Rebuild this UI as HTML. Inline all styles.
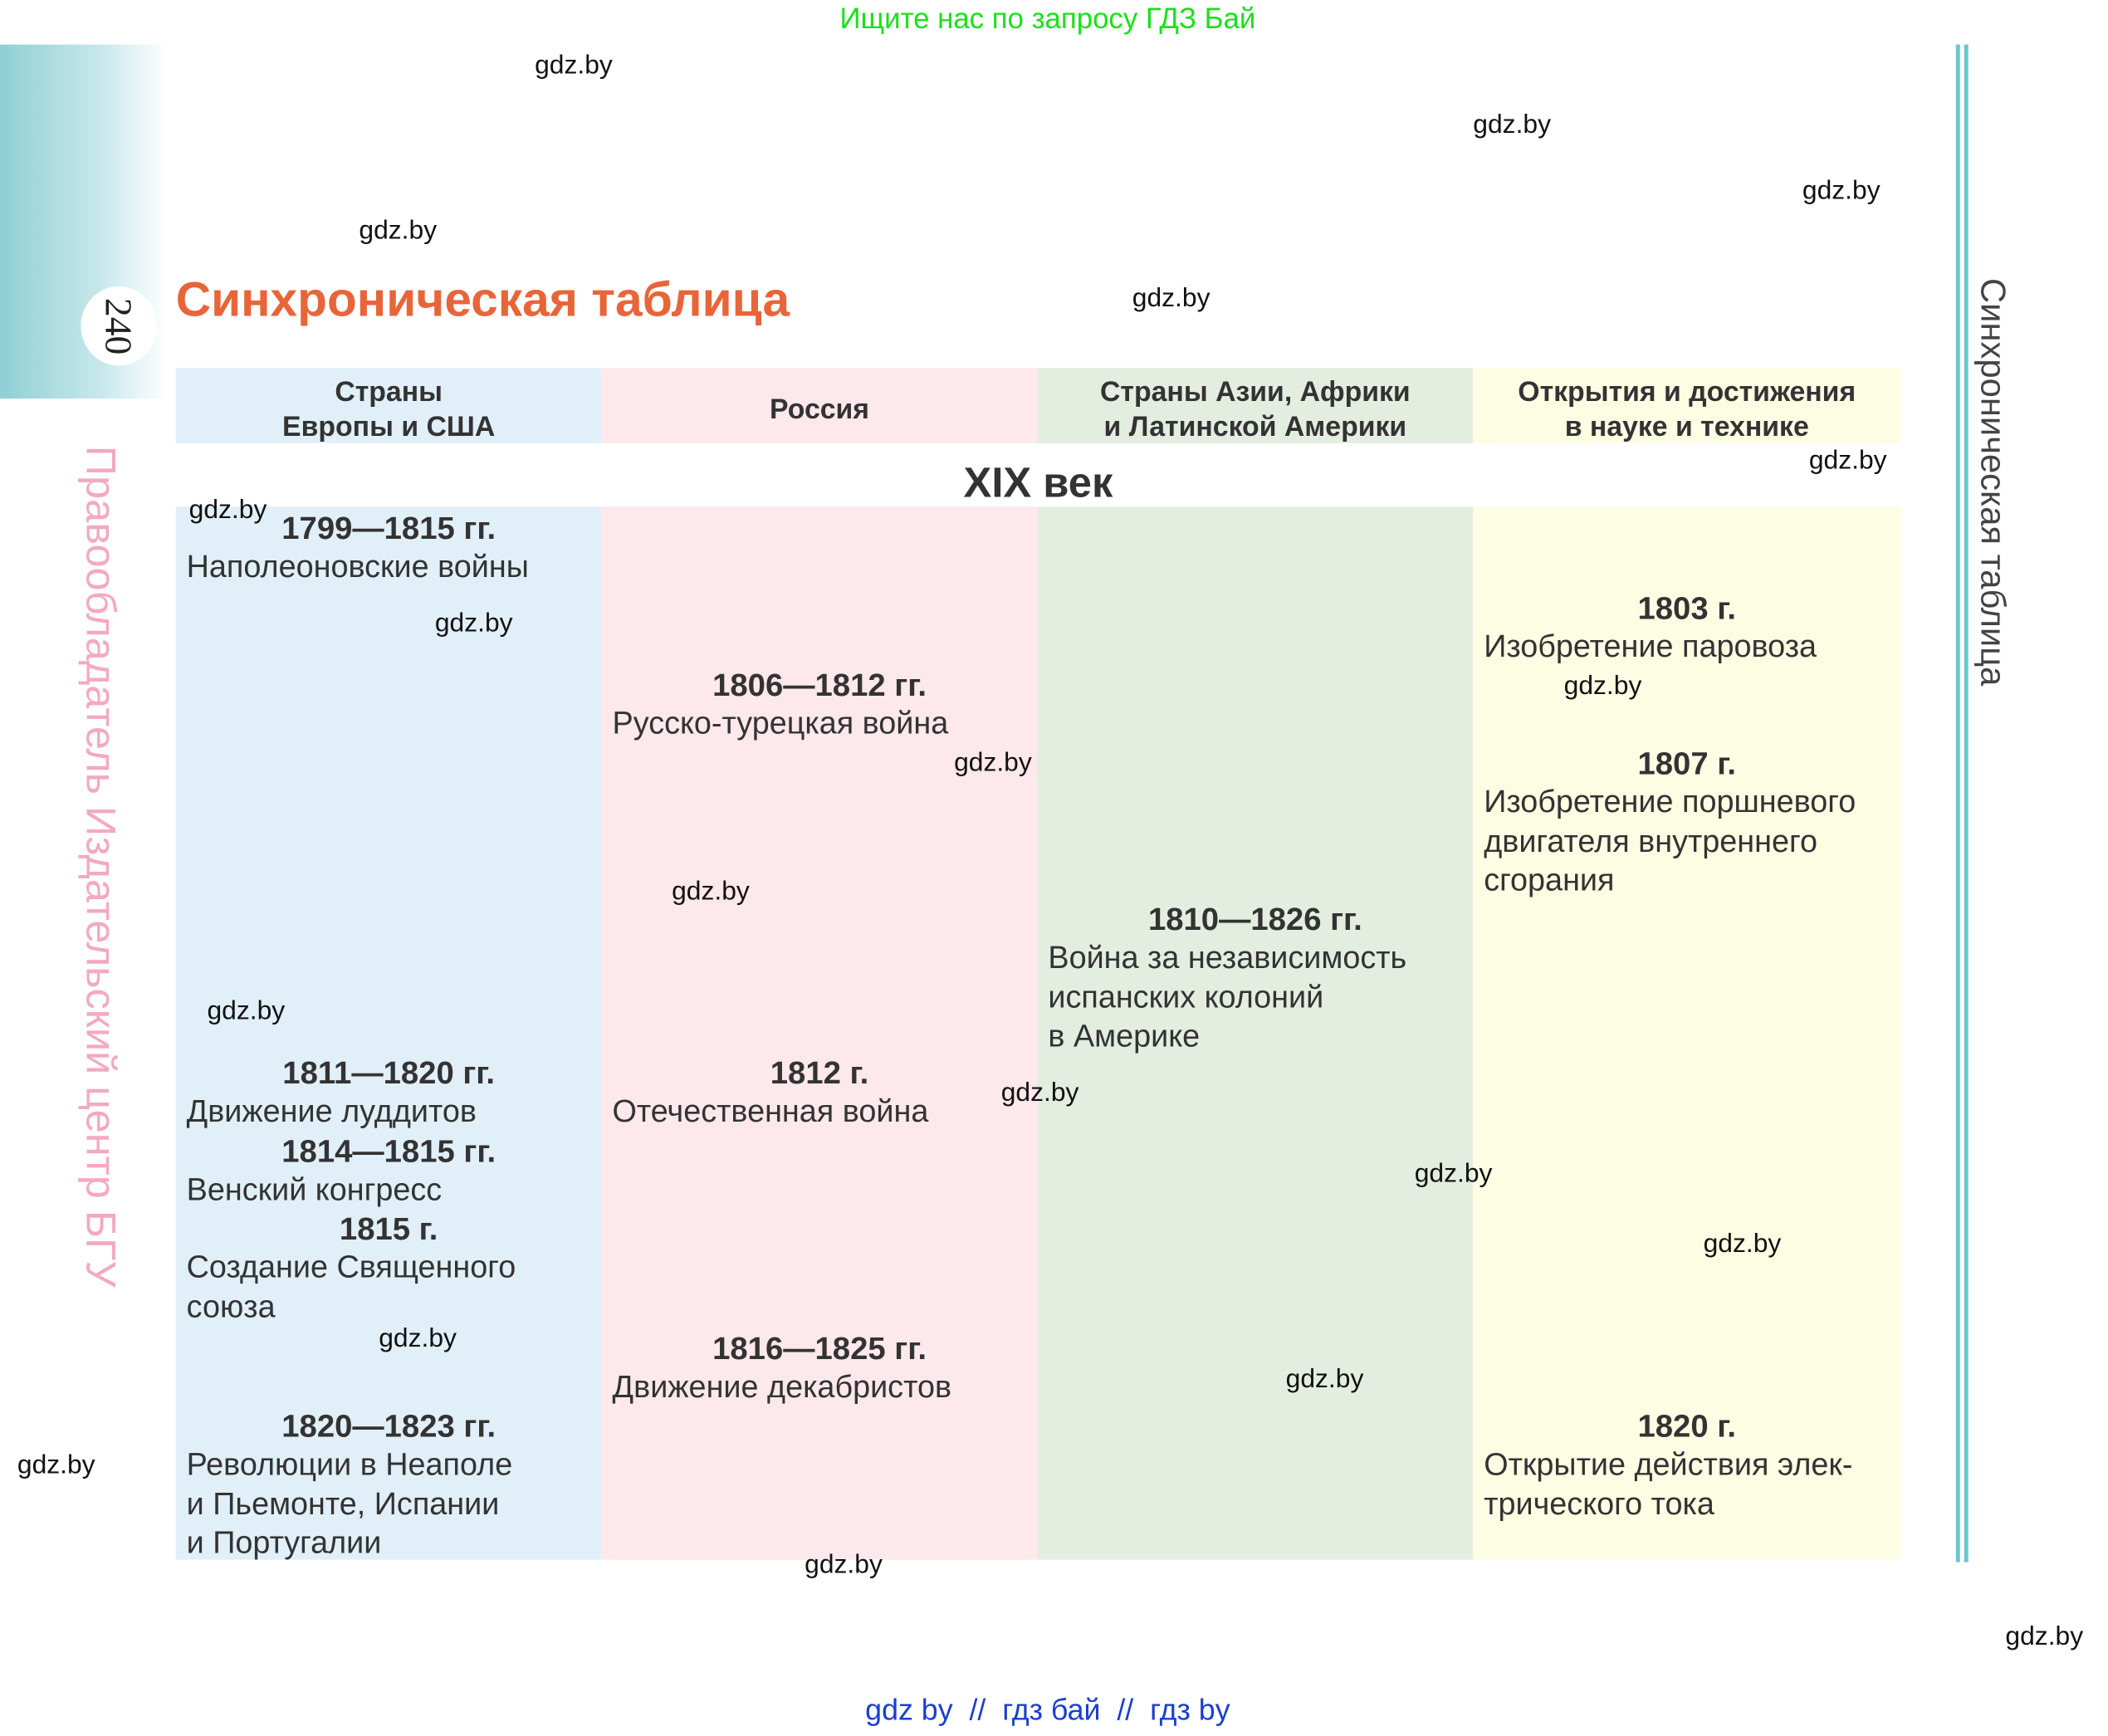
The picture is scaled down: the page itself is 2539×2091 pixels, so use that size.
<!DOCTYPE html>
<html><head><meta charset="utf-8"><style>
*{margin:0;padding:0;box-sizing:border-box}
body{width:2539px;height:2091px;position:relative;background:#fff;font-family:"Liberation Sans",sans-serif;color:#333;overflow:hidden}
#r{position:absolute;left:0;top:0;width:2539px;height:2091px;transform:scale(0.994);transform-origin:0 0}
.a{position:absolute}
.w{position:absolute;font-size:32px;line-height:34px;color:#111;white-space:nowrap}
.t{position:absolute;font-size:38px;line-height:47.3px;white-space:nowrap;color:#333}
.t b{display:block;text-align:center;font-size:38.5px}
.h{position:absolute;font-size:34px;font-weight:bold;line-height:42px;text-align:center;color:#333;white-space:nowrap}
</style></head><body><div id="r">
<div class="a" style="left:0;top:0;width:2539px;text-align:center;font-size:35px;line-height:46px;color:#1be01b">Ищите нас по запросу ГДЗ Бай</div>
<div class="a" style="left:0;top:54px;width:203px;height:429px;background:linear-gradient(to right,#8fcfd5,#c8e8eb 60%,#fff)"></div>
<div class="a" style="left:98px;top:347px;width:92px;height:96px;border-radius:50%;background:#fff"></div>
<div class="a" style="left:98px;top:347px;width:92px;height:96px;display:flex;align-items:center;justify-content:center"><span style="writing-mode:vertical-rl;font-family:'Liberation Serif',serif;font-size:46px;color:#222">240</span></div>
<div class="a" style="left:95px;top:540px;width:54px;writing-mode:vertical-rl;font-size:50.8px;line-height:54px;color:#f3a9c2;white-space:nowrap">Правообладатель Издательский центр БГУ</div>
<div class="a" style="left:2370px;top:54px;width:5px;height:1839px;background:#6ec5cc"></div>
<div class="a" style="left:2380px;top:54px;width:5px;height:1839px;background:#6ec5cc"></div>
<div class="a" style="left:2392px;top:337px;width:46px;writing-mode:vertical-rl;font-size:42px;line-height:46px;color:#444;white-space:nowrap">Синхроническая таблица</div>
<div class="a" style="left:213px;top:328px;font-size:59px;font-weight:bold;line-height:70px;color:#e8653a;white-space:nowrap">Синхроническая таблица</div>
<div class="a" style="left:213px;top:446px;width:516px;height:91px;background:#e1eff8"></div>
<div class="a" style="left:729px;top:446px;width:528px;height:91px;background:#fde8ec"></div>
<div class="a" style="left:1257px;top:446px;width:528px;height:91px;background:#e3ede0"></div>
<div class="a" style="left:1785px;top:446px;width:518px;height:91px;background:#fdfde4"></div>
<div class="a" style="left:213px;top:614px;width:516px;height:1276px;background:#e1eff8"></div>
<div class="a" style="left:729px;top:614px;width:528px;height:1276px;background:#fde8ec"></div>
<div class="a" style="left:1257px;top:614px;width:528px;height:1276px;background:#e3ede0"></div>
<div class="a" style="left:1785px;top:614px;width:518px;height:1276px;background:#fdfde4"></div>
<div class="h" style="left:213px;top:454px;width:516px">Страны<br>Европы и США</div>
<div class="h" style="left:729px;top:475px;width:528px">Россия</div>
<div class="h" style="left:1257px;top:454px;width:528px">Страны Азии, Африки<br>и Латинской Америки</div>
<div class="h" style="left:1785px;top:454px;width:518px">Открытия и достижения<br>в науке и технике</div>
<div class="a" style="left:213px;top:557px;width:2090px;text-align:center;font-size:51px;font-weight:bold;line-height:56px;color:#333">XIX век</div>

<div class="t" style="left:226px;top:617px;width:490px"><b>1799—1815 гг.</b>Наполеоновские войны</div>
<div class="t" style="left:226px;top:1277px;width:490px"><b>1811—1820 гг.</b>Движение луддитов<b>1814—1815 гг.</b>Венский конгресс<b>1815 г.</b>Создание Священного<br>союза</div>
<div class="t" style="left:226px;top:1705px;width:490px"><b>1820—1823 гг.</b>Революции в Неаполе<br>и Пьемонте, Испании<br>и Португалии</div>

<div class="t" style="left:742px;top:807px;width:502px"><b>1806—1812 гг.</b>Русско-турецкая война</div>
<div class="t" style="left:742px;top:1277px;width:502px"><b>1812 г.</b>Отечественная война</div>
<div class="t" style="left:742px;top:1611px;width:502px"><b>1816—1825 гг.</b>Движение декабристов</div>

<div class="t" style="left:1270px;top:1091px;width:502px"><b>1810—1826 гг.</b>Война за независимость<br>испанских колоний<br>в Америке</div>

<div class="t" style="left:1798px;top:714px;width:492px"><b>1803 г.</b>Изобретение паровоза</div>
<div class="t" style="left:1798px;top:902px;width:492px"><b>1807 г.</b>Изобретение поршневого<br>двигателя внутреннего<br>сгорания</div>
<div class="t" style="left:1798px;top:1705px;width:492px"><b>1820 г.</b>Открытие действия элек-<br>трического тока</div>

<div class="w" style="left:648px;top:61px">gdz.by</div>
<div class="w" style="left:1785px;top:133px">gdz.by</div>
<div class="w" style="left:2184px;top:213px">gdz.by</div>
<div class="w" style="left:435px;top:261px">gdz.by</div>
<div class="w" style="left:1372px;top:343px">gdz.by</div>
<div class="w" style="left:2192px;top:540px">gdz.by</div>
<div class="w" style="left:229px;top:600px">gdz.by</div>
<div class="w" style="left:527px;top:737px">gdz.by</div>
<div class="w" style="left:1895px;top:813px">gdz.by</div>
<div class="w" style="left:1156px;top:906px">gdz.by</div>
<div class="w" style="left:814px;top:1062px">gdz.by</div>
<div class="w" style="left:251px;top:1207px">gdz.by</div>
<div class="w" style="left:1213px;top:1306px">gdz.by</div>
<div class="w" style="left:1714px;top:1404px">gdz.by</div>
<div class="w" style="left:2064px;top:1489px">gdz.by</div>
<div class="w" style="left:459px;top:1604px">gdz.by</div>
<div class="w" style="left:1558px;top:1653px">gdz.by</div>
<div class="w" style="left:21px;top:1757px">gdz.by</div>
<div class="w" style="left:975px;top:1878px">gdz.by</div>
<div class="w" style="left:2430px;top:1965px">gdz.by</div>
<div class="a" style="left:0;top:2050px;width:2539px;text-align:center;font-size:36px;line-height:44px;color:#1a3fd0;white-space:pre">gdz by  //  гдз бай  //  гдз by</div>
</div></body></html>
